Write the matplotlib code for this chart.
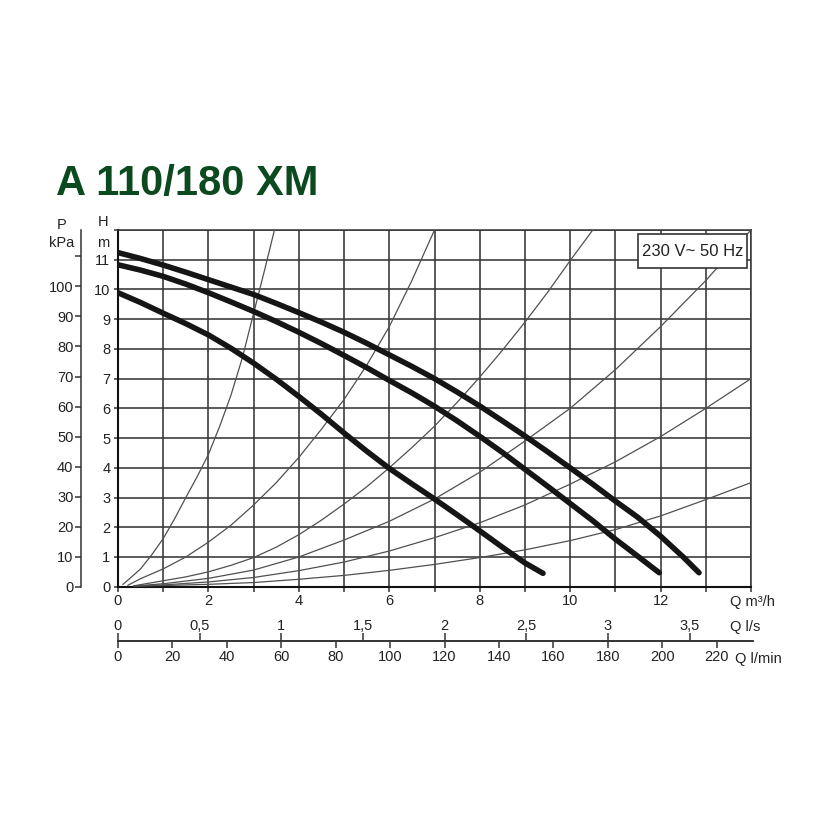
import matplotlib
matplotlib.use('Agg')
import matplotlib.pyplot as plt
from matplotlib.patches import Rectangle

plt.rcParams['font.family'] = ['Liberation Sans', 'DejaVu Sans']

# ---------------- data ----------------
title = "A 110/180 XM"
supply_label = "230 V~ 50 Hz"

# pump curves: Q (m3/h) vs H (m)
q_speed3 = [0, 0.5, 1, 1.5, 2, 2.5, 3, 3.5, 4, 4.5, 5, 5.5, 6, 6.5, 7, 7.5, 8, 8.5, 9,
            9.5, 10, 10.5, 11, 11.5, 12, 12.5, 12.85]
h_speed3 = [11.24, 11.04, 10.82, 10.58, 10.33, 10.08, 9.83, 9.53, 9.22, 8.9, 8.56, 8.19,
            7.8, 7.41, 7.0, 6.55, 6.08, 5.58, 5.07, 4.54, 4.0, 3.45, 2.88, 2.33, 1.7, 1.0, 0.47]
q_speed2 = [0, 0.5, 1, 1.5, 2, 2.5, 3, 3.5, 4, 4.5, 5, 5.5, 6, 6.5, 7, 7.5, 8, 8.5, 9,
            9.5, 10, 10.5, 11, 11.5, 11.97]
h_speed2 = [10.83, 10.65, 10.44, 10.18, 9.89, 9.58, 9.26, 8.92, 8.56, 8.18, 7.78, 7.37,
            6.94, 6.52, 6.07, 5.58, 5.06, 4.52, 3.95, 3.38, 2.8, 2.22, 1.6, 1.02, 0.47]
q_speed1 = [0, 0.5, 1, 1.5, 2, 2.5, 3, 3.5, 4, 4.5, 5, 5.5, 6, 6.5, 7, 7.5, 8, 8.5, 9, 9.4]
h_speed1 = [9.89, 9.56, 9.2, 8.85, 8.47, 8.02, 7.52, 6.98, 6.4, 5.8, 5.17, 4.56, 3.98,
            3.46, 2.95, 2.42, 1.88, 1.33, 0.8, 0.45]

# system curves (thin lines)
q_sysA = [0.11, 0.3, 0.5, 0.75, 1.0, 1.25, 1.5, 1.75, 2.0, 2.25, 2.5, 2.75, 3.0, 3.25, 3.46]
h_sysA = [0.08, 0.33, 0.6, 1.08, 1.62, 2.28, 3.0, 3.7, 4.45, 5.4, 6.45, 7.7, 9.2, 10.7, 12.0]
q_sysB = [0.22, 0.5, 1, 1.5, 2, 2.5, 3, 3.5, 4, 4.5, 5, 5.5, 6, 6.5, 7.0]
h_sysB = [0.05, 0.27, 0.6, 1.0, 1.5, 2.07, 2.75, 3.5, 4.35, 5.3, 6.3, 7.45, 8.75, 10.3, 12.0]
q_sysC = [0.35, 1, 1.5, 2, 2.5, 3, 3.5, 4, 4.5, 5, 5.5, 6, 6.5, 7, 7.5, 8, 8.5, 9, 9.5, 10, 10.5]
h_sysC = [0.03, 0.2, 0.33, 0.5, 0.72, 0.98, 1.33, 1.75, 2.24, 2.78, 3.36, 4.0, 4.68, 5.4,
          6.2, 7.05, 7.95, 8.9, 9.9, 10.97, 12.0]
q_sysD = [0.35, 1, 2, 3, 4, 5, 6, 7, 8, 9, 10, 11, 12, 13, 14]
h_sysD = [0.02, 0.1, 0.28, 0.56, 1.0, 1.57, 2.2, 2.95, 3.85, 4.9, 6.0, 7.3, 8.75, 10.3, 12.0]
q_sysE = [0.35, 1, 2, 3, 4, 5, 6, 7, 8, 9, 10, 11, 12, 13, 14]
h_sysE = [0.02, 0.06, 0.16, 0.31, 0.54, 0.83, 1.2, 1.65, 2.15, 2.75, 3.45, 4.2, 5.05, 6.0, 7.0]
q_sysF = [0.35, 1, 2, 3, 4, 5, 6, 7, 8, 9, 10, 11, 12, 13, 14]
h_sysF = [0.02, 0.04, 0.08, 0.14, 0.25, 0.38, 0.55, 0.75, 0.98, 1.24, 1.55, 1.92, 2.38, 2.93, 3.5]

# axis ticks / labels
h_ticks = list(range(0, 13))
h_ticklabels = [str(i) for i in range(12)] + ['']
p_ticks = list(range(0, 120, 10))
p_ticklabels = [str(p) for p in range(0, 110, 10)] + ['']
qm3h_ticks = list(range(0, 15))
qm3h_ticklabels = ['0', '', '2', '', '4', '', '6', '', '8', '', '10', '', '12', '', '']
qls_ticks = [0, 0.5, 1, 1.5, 2, 2.5, 3, 3.5]
qls_ticklabels = ['0', '0,5', '1', '1,5', '2', '2,5', '3', '3,5']
qlmin_ticks = list(range(0, 240, 20))
qlmin_ticklabels = [str(v) for v in qlmin_ticks]

# ---------------- figure ----------------
W_PX = 840.0
fig = plt.figure(figsize=(8.4, 8.4), dpi=100)

def fx(px):
    return px / W_PX

def fy(py):
    return 1 - py / W_PX

left_px, right_px, top_px, bot_px = 118, 751, 230, 586.7
ax = fig.add_axes([fx(left_px), fy(bot_px), fx(right_px - left_px), (bot_px - top_px) / W_PX])
ax.set_xlim(0, 14)
ax.set_ylim(0, 12)

grid_c = '#363636'
txt_c = '#222222'
ax.set_xticks(qm3h_ticks, labels=qm3h_ticklabels)
ax.set_yticks(h_ticks, labels=h_ticklabels)
ax.grid(True, color=grid_c, lw=1.15)
ax.set_axisbelow(True)
for s in ['left', 'bottom']:
    ax.spines[s].set_color('#111111')
    ax.spines[s].set_linewidth(1.5)
for s in ['top', 'right']:
    ax.spines[s].set_color(grid_c)
    ax.spines[s].set_linewidth(1.1)
ax.tick_params(axis='x', direction='out', length=3.5, width=1.1, pad=2,
               labelsize=10.5, colors=txt_c, color=grid_c)
ax.tick_params(axis='y', direction='out', length=3, width=1.1, pad=2.5,
               labelsize=10.5, colors=txt_c, color=grid_c)

# system curves
for q, h in [(q_sysA, h_sysA), (q_sysB, h_sysB), (q_sysC, h_sysC),
             (q_sysD, h_sysD), (q_sysE, h_sysE), (q_sysF, h_sysF)]:
    ax.plot(q, h, color='#505050', lw=0.9, zorder=3)

# pump curves
for q, h in [(q_speed3, h_speed3), (q_speed2, h_speed2), (q_speed1, h_speed1)]:
    ax.plot(q, h, color='#151515', lw=4.0, solid_capstyle='round',
            solid_joinstyle='round', zorder=4)

# supply box
box = Rectangle(((638 - left_px) / (right_px - left_px), (bot_px - 268) / (bot_px - top_px)),
                109 / (right_px - left_px), 34 / (bot_px - top_px),
                transform=ax.transAxes, facecolor='white', edgecolor='#333333',
                lw=1.2, zorder=5, clip_on=False)
ax.add_patch(box)
ax.text((692.5 - left_px) / (right_px - left_px), (bot_px - 251) / (bot_px - top_px),
        supply_label, transform=ax.transAxes, ha='center', va='center',
        fontsize=12, color=txt_c, zorder=6)

# pressure axis (kPa)
axp = ax.secondary_yaxis((81 - left_px) / (right_px - left_px),
                         functions=(lambda h: h * 9.9, lambda p: p / 9.9))
axp.set_yticks(p_ticks, labels=p_ticklabels)
axp.tick_params(direction='out', length=4, width=1.1, pad=1.5,
                labelsize=10.5, colors=txt_c, color='#333333')
axp.spines['left'].set_color('#333333')
axp.spines['left'].set_linewidth(1.1)

# flow axes l/s and l/min on one line
line_py = 641
ax_ls = fig.add_axes([fx(left_px), fy(line_py), fx(right_px - left_px + 2), 1e-5])
ax_ls.set_xlim(0, 14 / 3.6)
ax_ls.set_ylim(0, 1)
ax_ls.patch.set_visible(False)
for s in ['left', 'right', 'bottom']:
    ax_ls.spines[s].set_visible(False)
ax_ls.spines['top'].set_color('#333333')
ax_ls.spines['top'].set_linewidth(1.2)
ax_ls.set_yticks([])
ax_ls.xaxis.tick_top()
ax_ls.set_xticks(qls_ticks, labels=qls_ticklabels)
ax_ls.tick_params(axis='x', direction='out', length=5.5, width=1.1, pad=0.5,
                  labelsize=10.5, colors=txt_c, color='#333333')

ax_lm = fig.add_axes([fx(left_px), fy(line_py), fx(right_px - left_px + 2), 1e-5])
ax_lm.set_xlim(0, 14 * 60 / 3.6)
ax_lm.set_ylim(0, 1)
ax_lm.patch.set_visible(False)
for s in ['left', 'right', 'top']:
    ax_lm.spines[s].set_visible(False)
ax_lm.spines['bottom'].set_color('#333333')
ax_lm.spines['bottom'].set_linewidth(1.2)
ax_lm.set_yticks([])
ax_lm.set_xticks(qlmin_ticks, labels=qlmin_ticklabels)
ax_lm.tick_params(axis='x', direction='out', length=5, width=1.1, pad=1.5,
                  labelsize=10.5, colors=txt_c, color='#333333')

# axis titles
fig.text(fx(730), fy(602), "Q m³/h", ha='left', va='center', fontsize=10.5, color=txt_c)
fig.text(fx(730), fy(627), "Q l/s", ha='left', va='center', fontsize=10.5, color=txt_c)
fig.text(fx(735), fy(659), "Q l/min", ha='left', va='center', fontsize=10.5, color=txt_c)
fig.text(fx(62), fy(225), "P", ha='center', va='center', fontsize=10.5, color=txt_c)
fig.text(fx(62), fy(243), "kPa", ha='center', va='center', fontsize=10.5, color=txt_c)
fig.text(fx(103), fy(222), "H", ha='center', va='center', fontsize=10.5, color=txt_c)
fig.text(fx(103), fy(243), "m", ha='center', va='center', fontsize=10.5, color=txt_c)

# title
fig.text(fx(56), fy(195), title, ha='left', va='baseline', fontsize=30,
         fontweight='bold', color='#0b4a1e')

fig.savefig('out.png', dpi=100)
